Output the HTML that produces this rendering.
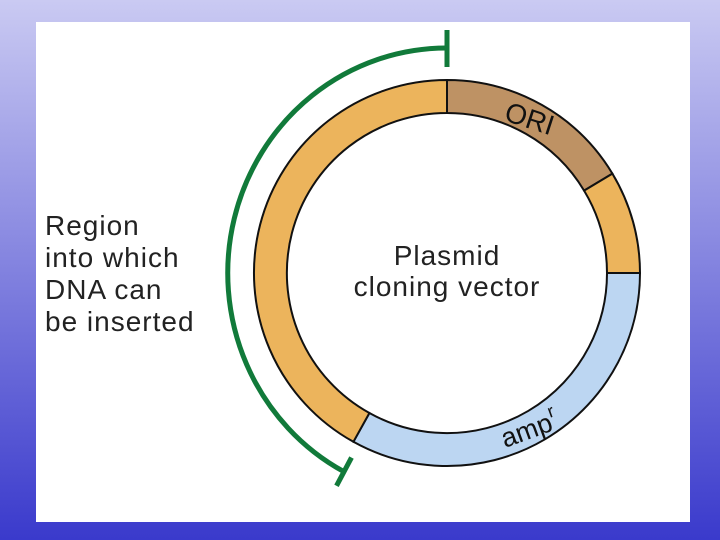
<!DOCTYPE html>
<html><head><style>
html,body{margin:0;padding:0}
body{width:720px;height:540px;background:linear-gradient(#cacaf2,#3a3acc);position:relative;overflow:hidden;font-family:"Liberation Sans",sans-serif}
#p{position:absolute;left:36px;top:22px;width:654px;height:500px;background:#fff}
</style></head><body>
<div id="p"></div>
<svg width="720" height="540" style="position:absolute;left:0;top:0" font-family="Liberation Sans, sans-serif">
<g stroke="#111" stroke-width="2">
<path d="M447,80 A193,193 0 0 1 612.4,173.6 L584.1,190.6 A160,160 0 0 0 447,113 Z" fill="#be9264"/>
<path d="M612.4,173.6 A193,193 0 0 1 640,273 L607,273 A160,160 0 0 0 584.1,190.6 Z" fill="#ecb45c"/>
<path d="M640,273 A193,193 0 0 1 353.4,441.8 L369.4,413 A160,160 0 0 0 607,273 Z" fill="#bcd6f2"/>
<path d="M353.4,441.8 A193,193 0 0 1 447,80 L447,113 A160,160 0 0 0 369.4,413 Z" fill="#ecb45c"/>
</g>
<g stroke="#117a3a" stroke-width="5" fill="none">
<path d="M447,48 A219,225 0 0 0 344,471.7"/>
<line x1="447" y1="30" x2="447" y2="67"/>
<line x1="336.5" y1="485.8" x2="351.5" y2="457.6"/>
</g>
<text x="0" y="0" font-size="28" fill="#111" transform="translate(503,120) rotate(18)">ORI</text>
<text x="0" y="0" font-size="27" fill="#111" transform="translate(505,448) rotate(-20)">amp<tspan font-size="18" dy="-13">r</tspan></text>
<g font-size="28" fill="#222" letter-spacing="1">
<text x="45" y="235">Region</text>
<text x="45" y="267">into which</text>
<text x="45" y="299">DNA can</text>
<text x="45" y="331">be inserted</text>
<text x="447" y="265" text-anchor="middle">Plasmid</text>
<text x="447" y="296" text-anchor="middle">cloning vector</text>
</g>
</svg>
</body></html>
